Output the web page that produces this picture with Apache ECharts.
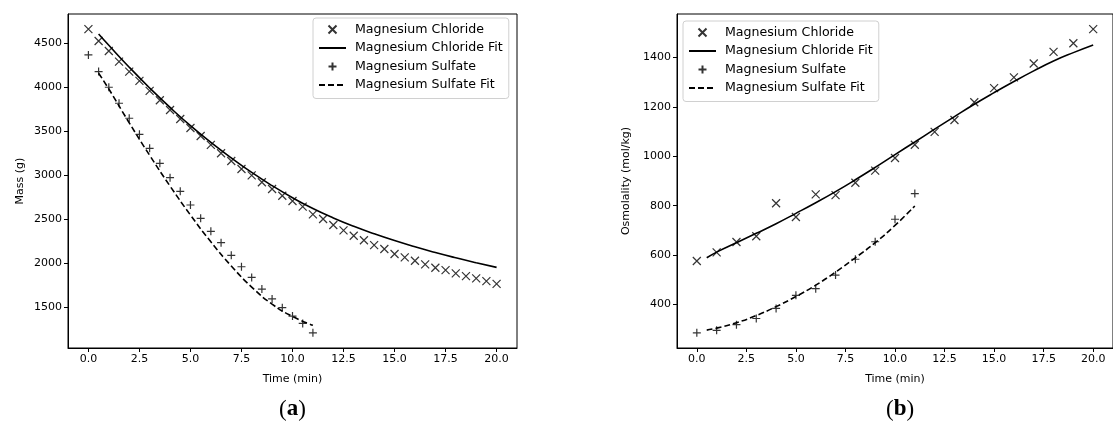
<!DOCTYPE html>
<html>
<head>
<meta charset="utf-8">
<script src="https://cdn.jsdelivr.net/npm/echarts@6/dist/echarts.min.js"></script>
<style>
html,body{margin:0;padding:0;background:#fff;}
#chart{width:1113px;height:430px;}
</style>
</head>
<body>
<div id="chart"></div>
<script>
// ---------- DATA ----------
// Panel (a): mass vs time
const massClTime = [0,0.5,1,1.5,2,2.5,3,3.5,4,4.5,5,5.5,6,6.5,7,7.5,8,8.5,9,9.5,10,10.5,11,11.5,12,12.5,13,13.5,14,14.5,15,15.5,16,16.5,17,17.5,18,18.5,19,19.5,20];
const massClValues = [4661,4527,4413,4292,4178,4072,3958,3852,3741,3639,3536,3445,3343,3248,3160,3069,2997,2918,2841,2765,2705,2640,2553,2500,2431,2371,2309,2258,2203,2158,2101,2063,2024,1983,1945,1918,1881,1850,1824,1793,1762];
const massClFitTime = [0.5,1,2,3,4,5,6,7,8,9,10,11,12,13,14,15,16,17,18,19,20];
const massClFitValues = [4607,4478,4228,3992,3770,3562,3372,3195,3030,2880,2742,2619,2512,2417,2332,2254,2183,2118,2058,2002,1949];
const massSoTime = [0,0.5,1,1.5,2,2.5,3,3.5,4,4.5,5,5.5,6,6.5,7,7.5,8,8.5,9,9.5,10,10.5,11];
const massSoValues = [4368,4178,4000,3818,3647,3464,3305,3134,2970,2815,2659,2507,2359,2230,2086,1956,1835,1702,1590,1490,1395,1311,1204];
const massSoFitTime = [0.5,1,2,3,4,5,6,7,8,9,10,11];
const massSoFitValues = [4160,3980,3595,3225,2875,2545,2240,1965,1725,1530,1390,1290];

// Panel (b): osmolality vs time
const osmClTime = [0,1,2,3,4,5,6,7,8,9,10,11,12,13,14,15,16,17,18,19,20];
const osmClValues = [576,611,653,676,810,754,846,843,893,942,993,1047,1099,1147,1219,1276,1320,1376,1423,1458,1515];
const osmClFitTime = [0.5,1,2,3,4,5,6,7,8,9,10,11,12,13,14,15,16,17,18,19,20];
const osmClFitValues = [589,612,650,688,727,769,812,857,905,955,1007,1058,1110,1161,1211,1258,1303,1346,1386,1420,1451];
const osmSoTime = [0,1,2,3,4,5,6,7,8,9,10,11];
const osmSoValues = [285,295,318,343,384,437,464,519,583,654,745,849];
const osmSoFitTime = [0.5,1,2,3,4,5,6,7,8,9,10,11];
const osmSoFitValues = [296,304,326,355,391,432,478,531,589,650,720,799];

// Tick labels
const xTicks = [0,2.5,5,7.5,10,12.5,15,17.5,20];
const massTicks = [1500,2000,2500,3000,3500,4000,4500];
const osmTicks = [400,600,800,1000,1200,1400];

const seriesNames = ['Magnesium Chloride','Magnesium Chloride Fit','Magnesium Sulfate','Magnesium Sulfate Fit'];
const panelLabels = ['a','b'];
const axisTitles = {x:'Time (min)', mass:'Mass (g)', osm:'Osmolality (mol/kg)'};

// ---------- CHART ----------
const pair = (xs, ys) => xs.map((x, i) => [x, ys[i]]);
const X_PATH = 'path://M0,0L10,10M10,0L0,10';
const PLUS_PATH = 'path://M5,0L5,10M0,5L10,5';
const FONT = 'DejaVu Sans';

function xAxisCfg(gridIndex) {
  return {
    type: 'value', gridIndex, min: -1, max: 21,
    name: axisTitles.x, nameLocation: 'middle', nameGap: 26,
    nameTextStyle: {fontFamily: FONT, fontSize: 11, color: '#000'},
    axisLine: {show: true, onZero: false, lineStyle: {color: '#000', width: 1}},
    axisTick: {show: true, length: 4, lineStyle: {color: '#000'}, customValues: xTicks},
    axisLabel: {fontFamily: FONT, fontSize: 11, color: '#000', margin: 6, customValues: xTicks,
      formatter: v => Number(v).toFixed(1)},
    splitLine: {show: false}
  };
}
function yAxisCfg(gridIndex, min, max, ticks, name, nameGap) {
  return {
    type: 'value', gridIndex, min, max,
    name, nameLocation: 'middle', nameGap,
    nameTextStyle: {fontFamily: FONT, fontSize: 11, color: '#000'},
    axisLine: {show: true, onZero: false, lineStyle: {color: '#000', width: 1}},
    axisTick: {show: true, length: 4, lineStyle: {color: '#000'}, customValues: ticks},
    axisLabel: {fontFamily: FONT, fontSize: 11, color: '#000', margin: 6, customValues: ticks,
      formatter: v => String(Math.round(v))},
    splitLine: {show: false}
  };
}
function panelSeries(idx, clT, clV, clFT, clFV, soT, soV, soFT, soFV) {
  const markerStyle = {color: 'rgba(0,0,0,0)', borderColor: '#000', borderWidth: 1.2};
  return [
    {name: seriesNames[0], type: 'scatter', xAxisIndex: idx, yAxisIndex: idx,
     symbol: X_PATH, symbolSize: 8, itemStyle: markerStyle, data: pair(clT, clV), z: 3},
    {name: seriesNames[1], type: 'line', xAxisIndex: idx, yAxisIndex: idx, smooth: true,
     showSymbol: false, symbol: 'none', lineStyle: {color: '#000', width: 1.6, type: 'solid'},
     itemStyle: {color: '#000'}, data: pair(clFT, clFV), z: 2},
    {name: seriesNames[2], type: 'scatter', xAxisIndex: idx, yAxisIndex: idx,
     symbol: PLUS_PATH, symbolSize: 8, itemStyle: markerStyle, data: pair(soT, soV), z: 3},
    {name: seriesNames[3], type: 'line', xAxisIndex: idx, yAxisIndex: idx, smooth: true,
     showSymbol: false, symbol: 'none', lineStyle: {color: '#000', width: 1.6, type: [6, 3]},
     itemStyle: {color: '#000'}, data: pair(soFT, soFV), z: 2}
  ];
}
function legendCfg(left, top) {
  return {
    left, top, orient: 'vertical', itemWidth: 27, itemHeight: 8, itemGap: 5.5,
    padding: [5, 6, 7, 5], borderColor: '#d0d0d0', borderWidth: 1, borderRadius: 3,
    backgroundColor: 'rgba(255,255,255,0.85)', selectedMode: false,
    textStyle: {fontFamily: FONT, fontSize: 12.6, color: '#000', padding: [0, 0, 0, 4]},
    data: [
      {name: seriesNames[0]},
      {name: seriesNames[1], itemStyle: {opacity: 0}},
      {name: seriesNames[2]},
      {name: seriesNames[3], itemStyle: {opacity: 0}}
    ]
  };
}
const labelRich = {
  p: {fontFamily: 'Liberation Serif', fontSize: 23, fill: '#000'},
  b: {fontFamily: 'Liberation Serif', fontSize: 23, fontWeight: 'bold', fill: '#000'}
};

const chart = echarts.init(document.getElementById('chart'), null, {renderer: 'canvas'});
chart.setOption({
  animation: false,
  backgroundColor: '#fff',
  grid: [
    {left: 68, top: 14, width: 449, height: 334, show: true, borderColor: '#000', borderWidth: 1, backgroundColor: 'transparent', containLabel: false},
    {left: 677, top: 14, width: 446, height: 334, show: true, borderColor: '#000', borderWidth: 1, backgroundColor: 'transparent', containLabel: false}
  ],
  xAxis: [xAxisCfg(0), xAxisCfg(1)],
  yAxis: [
    yAxisCfg(0, 1031, 4834, massTicks, axisTitles.mass, 42),
    yAxisCfg(1, 223.5, 1576.5, osmTicks, axisTitles.osm, 45)
  ],
  legend: [legendCfg(313, 18), legendCfg(683, 21)],
  series: [
    ...panelSeries(0, massClTime, massClValues, massClFitTime, massClFitValues, massSoTime, massSoValues, massSoFitTime, massSoFitValues),
    ...panelSeries(1, osmClTime, osmClValues, osmClFitTime, osmClFitValues, osmSoTime, osmSoValues, osmSoFitTime, osmSoFitValues)
  ],
  graphic: [
    {type: 'text', left: 279, top: 398, style: {rich: labelRich, text: '{p|(}{b|' + panelLabels[0] + '}{p|)}'}},
    {type: 'text', left: 886, top: 398, style: {rich: labelRich, text: '{p|(}{b|' + panelLabels[1] + '}{p|)}'}}
  ]
});
</script>
</body>
</html>
